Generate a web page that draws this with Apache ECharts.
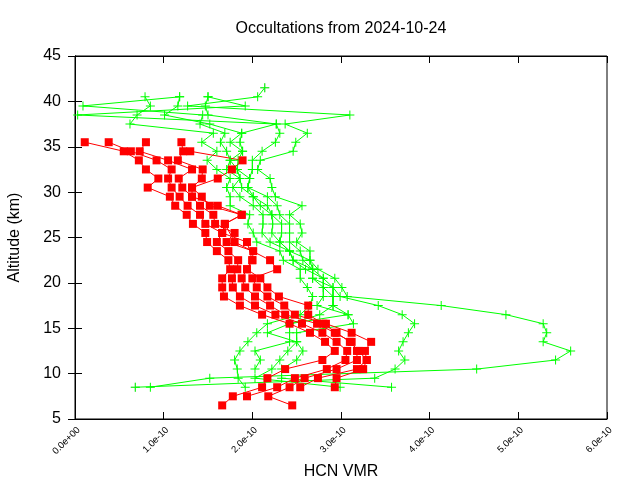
<!DOCTYPE html>
<html>
<head>
<meta charset="utf-8">
<script src="https://cdn.jsdelivr.net/npm/echarts@6/dist/echarts.min.js"></script>
<style>html,body{margin:0;padding:0;background:#fff;}#c{width:640px;height:480px;}</style>
</head>
<body>
<div id="c"></div>
<script>
// HCN VMR values in units of 1e-10
var redAlt = [6.5,7.5,8.5,9.5,10.5,11.5,12.5,13.5,14.5,15.5,16.5,17.5,18.5,19.5,20.5,21.5,22.5,23.5,24.5,25.5,26.5,27.5,28.5,29.5,30.5,31.5,32.5,33.5,34.5,35.5];
var red1 = [1.66,1.78,2.11,2.17,2.37,2.79,2.93,2.82,2.65,2.42,2.11,1.86,1.68,1.66,1.66,1.75,1.73,1.60,1.49,1.47,1.33,1.26,1.13,1.07,0.82,0.94,0.80,0.72,0.55,0.11];
var red2 = [null,1.94,2.28,2.48,2.84,3.05,3.07,2.95,2.79,2.56,2.26,2.03,1.86,1.78,1.77,1.83,1.84,1.73,1.60,1.66,1.47,1.41,1.27,1.18,1.09,1.05,1.09,0.92,0.63,0.38];
var red3 = [2.45,2.18,2.42,2.59,2.95,3.18,3.18,3.12,2.93,2.73,2.37,2.20,2.03,1.92,1.88,1.94,2.00,2.01,1.71,1.80,1.58,1.56,1.41,1.32,1.21,1.17,1.32,1.05,0.73,0.80];
var red4 = [null,null,2.54,2.74,3.18,3.29,3.27,3.34,3.12,2.83,2.48,2.36,2.17,2.05,2.00,2.28,2.20,null,1.80,null,1.69,1.88,1.52,1.43,1.32,1.43,1.44,1.16,1.22,1.20];
var red5 = [null,null,2.93,2.95,3.25,3.29,3.20,3.10,2.95,2.80,2.63,2.63,2.30,2.17,2.09,1.94,2.00,null,1.94,1.66,1.69,1.88,1.61,1.32,1.32,1.61,1.77,1.89,1.30,null];

var greenAlt = [8.5,9.5,10.5,11.5,12.5,13.5,14.5,15.5,16.5,17.5,18.5,19.5,20.5,21.5,22.5,23.5,24.5,25.5,26.5,27.5,28.5,29.5,30.5,31.5,32.5,33.5,34.5,35.5,36.5,37.5,38.5,39.5,40.5,41.5];
var green1 = [0.85,1.52,4.53,5.42,5.59,5.28,5.32,5.28,4.86,4.13,3.07,3.01,2.93,2.74,2.65,2.65,2.50,2.56,2.54,2.42,2.56,2.26,2.22,2.20,2.06,2.09,2.46,2.49,2.62,2.37,3.10,1.27,2.06,2.14];
var green2 = [0.68,3.38,3.61,3.72,3.65,3.70,3.76,3.83,3.69,3.42,2.99,2.91,2.80,2.68,2.57,2.54,2.42,2.42,2.42,2.31,2.28,2.17,1.95,1.97,2.00,2.00,2.11,2.26,2.31,2.27,0.03,1.92,1.50,null];
var green3 = [1.92,1.84,1.83,1.80,1.86,1.95,2.05,2.17,2.54,2.65,2.68,2.62,2.54,2.54,2.35,2.31,2.05,2.01,1.95,1.97,1.75,1.75,1.71,1.75,1.60,1.49,1.60,1.43,1.56,0.62,0.70,0.85,0.79,null];
var green4 = [3.57,2.33,2.33,2.50,2.57,2.50,2.50,3.14,3.08,2.91,2.91,2.80,2.68,2.68,2.46,2.42,2.31,2.33,2.33,2.22,2.17,2.01,1.88,1.86,1.83,1.84,1.89,1.86,1.88,1.52,1.01,1.16,1.18,null];
var green5 = [2.99,2.03,2.22,2.31,2.40,2.50,2.17,2.42,3.08,2.73,2.80,2.80,2.80,2.60,2.46,2.42,2.31,2.22,2.23,2.22,2.09,2.01,1.95,1.97,1.83,1.75,1.71,1.64,1.69,1.41,1.44,0.09,1.18,null];
var green6 = [null,null,2.03,2.09,2.03,2.42,2.42,2.42,2.76,2.91,2.91,2.91,2.68,2.68,2.65,2.42,2.20,2.11,2.12,2.12,2.01,1.86,1.78,1.86,1.71,1.75,1.89,1.75,1.88,2.27,1.50,1.47,1.50,null];
var grayX = [0.68, 2.14];
var grayAlt = [8.5, 41.5];

var xTicks = [0,1,2,3,4,5,6];
var xTickLabels = ['0.0e+00','1.0e-10','2.0e-10','3.0e-10','4.0e-10','5.0e-10','6.0e-10'];

function pairs(xs, ys){ var o=[]; for(var i=0;i<xs.length;i++){ if(xs[i]!==null && xs[i]!==undefined) o.push([xs[i], ys[i]]);} return o; }

var PLUS = 'path://M4,0H5V4H9V5H5V9H4V5H0V4H4Z';
var series = [];
[green1,green2,green3,green4,green5,green6].forEach(function(g){
  series.push({type:'line', data:pairs(g, greenAlt), symbol:PLUS, symbolSize:9, showAllSymbol:true,
    lineStyle:{color:'#00ff00', width:1}, itemStyle:{color:'#00ff00'}, animation:false, silent:true});
});
series.push({type:'scatter', data:pairs(grayX, grayAlt), symbol:PLUS, symbolSize:9,
  itemStyle:{color:'#a0a0a0'}, animation:false, silent:true});
[red1,red2,red3,red4,red5].forEach(function(r){
  series.push({type:'line', data:pairs(r, redAlt), symbol:'rect', symbolSize:8, showAllSymbol:true,
    lineStyle:{color:'#ff0000', width:1}, itemStyle:{color:'#ff0000'}, animation:false, silent:true});
});

var chart = echarts.init(document.getElementById('c'), null, {renderer:'canvas'});
var font = 'Liberation Sans, Arial, sans-serif';
chart.setOption({
  backgroundColor:'#ffffff',
  animation:false,
  title:{text:'Occultations from 2024-10-24', left:336, top:16, textAlign:'center',
    textStyle:{fontFamily:font, fontSize:16, fontWeight:'normal', color:'#000'}},
  grid:{left:75, right:33, top:56, bottom:61, show:true, borderColor:'#000', borderWidth:1, backgroundColor:'transparent',
    containLabel:false, outerBoundsMode:'none'},
  xAxis:[{type:'value', min:0, max:6, interval:1, position:'bottom',
    name:'HCN VMR', nameLocation:'middle', nameGap:38,
    nameTextStyle:{fontFamily:font, fontSize:16, color:'#000'},
    axisLine:{show:true, lineStyle:{color:'#000'}},
    axisTick:{show:true, inside:true, length:7, lineStyle:{color:'#000'}},
    splitLine:{show:false},
    axisLabel:{rotate:45, fontFamily:font, fontSize:9.5, color:'#000', margin:6, verticalAlign:'top',
      formatter:function(v){ var i=xTicks.indexOf(v); return i>=0? xTickLabels[i] : ''; }}},
   {type:'value', min:0, max:6, interval:1, position:'top',
    axisLine:{show:true, lineStyle:{color:'#000'}},
    axisTick:{show:true, inside:true, length:7, lineStyle:{color:'#000'}},
    axisLabel:{show:false}, splitLine:{show:false}}],
  yAxis:[{type:'value', min:5, max:45, interval:5, position:'left',
    name:'Altitude (km)', nameLocation:'middle', nameGap:52,
    nameTextStyle:{fontFamily:font, fontSize:16, color:'#000'},
    axisLine:{show:true, lineStyle:{color:'#000'}},
    axisTick:{show:true, inside:true, length:7, lineStyle:{color:'#000'}},
    splitLine:{show:false},
    axisLabel:{fontFamily:font, fontSize:16, color:'#000', margin:14}},
   {type:'value', min:5, max:45, interval:5, position:'right',
    axisLine:{show:true, lineStyle:{color:'#000'}},
    axisTick:{show:true, inside:true, length:7, lineStyle:{color:'#000'}},
    axisLabel:{show:false}, splitLine:{show:false}}],
  series: series
});
</script>
</body>
</html>
